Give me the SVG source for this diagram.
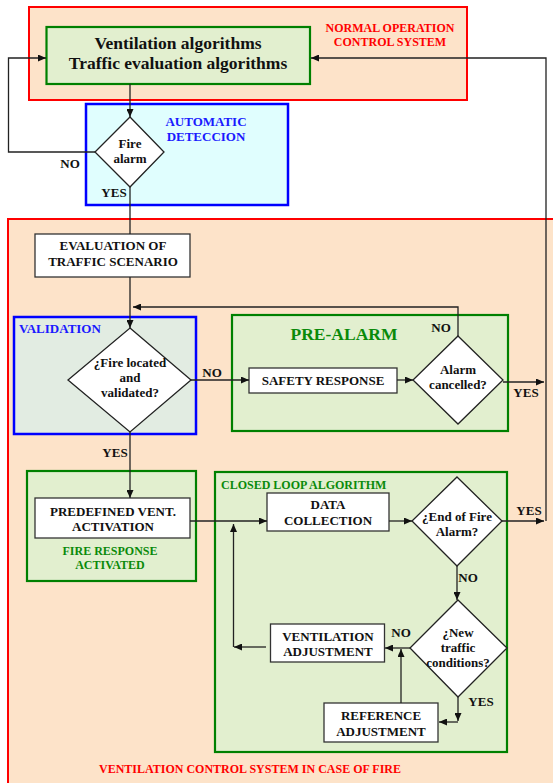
<svg xmlns="http://www.w3.org/2000/svg" width="553" height="783" viewBox="0 0 553 783">
<style>
.t{font-family:"Liberation Serif","Times New Roman",serif;font-weight:bold;text-anchor:middle;fill:#111}
.s13{font-size:13px}
.s12{font-size:12px}
.big{font-size:17.5px}
.red{fill:#ff0000}
.blue{fill:#1a1aff}
.green{fill:#0a8a0a}
.start{text-anchor:start}
.box{fill:#fff;stroke:#333;stroke-width:1.3}
.dia{fill:#fff;stroke:#222;stroke-width:1.3}
.ln{fill:none;stroke:#222;stroke-width:1.3}
.peach{fill:#fde3c9;stroke:#ff0000;stroke-width:2}
.gpanel{fill:#e2efcf;stroke:#008000;stroke-width:2.2}
</style>
<defs>
<marker id="ah" markerUnits="userSpaceOnUse" markerWidth="8" markerHeight="7" refX="8" refY="3.5" orient="auto">
<path d="M0,0 L8,3.5 L0,7 z" fill="#111"/>
</marker>
</defs>
<rect width="553" height="783" fill="#fff"/>

<g id="normal-operation">
<rect class="peach" x="29" y="7" width="438" height="93"/>
<text class="t s12 red" x="390" y="32">NORMAL OPERATION</text>
<text class="t s12 red" x="390" y="46">CONTROL SYSTEM</text>
</g>
<g id="algorithms">
<rect class="gpanel" x="46.5" y="27" width="263.5" height="57"/>
<text class="t big" x="178" y="49">Ventilation algorithms</text>
<text class="t big" x="178" y="69">Traffic evaluation algorithms</text>
</g>
<g id="automatic-detection">
<rect x="86" y="104" width="202" height="101" fill="#e0fefe" stroke="#0000ff" stroke-width="2.5"/>
<text class="t s13 blue" x="206" y="126">AUTOMATIC</text>
<text class="t s13 blue" x="206" y="141">DETECCION</text>
</g>
<g id="fire-alarm">
<polygon class="dia" points="130,117 164,152 130,187 95,152"/>
<text class="t s13" x="130" y="148">Fire</text>
<text class="t s13" x="130" y="163">alarm</text>
</g>

<g id="fire-system">
<rect class="peach" x="8" y="219" width="560" height="580"/>
<text class="t s12 red" x="250" y="773">VENTILATION CONTROL SYSTEM IN CASE OF FIRE</text>
</g>
<g id="evaluation">
<rect class="box" x="35" y="234" width="155" height="43"/>
<text class="t s13" x="113" y="250">EVALUATION OF</text>
<text class="t s13" x="113" y="266">TRAFFIC SCENARIO</text>
</g>
<g id="validation">
<rect x="14" y="317" width="182" height="117" fill="#e2ece2" stroke="#0000ff" stroke-width="2.5"/>
<text class="t s13 blue start" x="19" y="333">VALIDATION</text>
</g>
<g id="fire-located">
<polygon class="dia" points="130,328 191,380 130,432 68,380"/>
<text class="t s13" x="130" y="367">¿Fire located</text>
<text class="t s13" x="130" y="382">and</text>
<text class="t s13" x="130" y="397">validated?</text>
</g>
<g id="pre-alarm">
<rect class="gpanel" x="232" y="315" width="276" height="116"/>
<text class="t big green" x="344" y="340">PRE-ALARM</text>
</g>
<g id="safety-response">
<rect class="box" x="249" y="368" width="148" height="25"/>
<text class="t s13" x="323" y="385">SAFETY RESPONSE</text>
</g>
<g id="alarm-cancelled">
<polygon class="dia" points="458,336 503,380 458,424 413,380"/>
<text class="t s13" x="458" y="374">Alarm</text>
<text class="t s13" x="458" y="389">cancelled?</text>
</g>
<g id="fire-response">
<rect class="gpanel" x="27" y="471" width="169" height="110"/>
<text class="t s12 green" x="110" y="555">FIRE RESPONSE</text>
<text class="t s12 green" x="110" y="569">ACTIVATED</text>
</g>
<g id="predefined">
<rect class="box" x="35" y="498" width="155" height="40"/>
<text class="t s13" x="113" y="516">PREDEFINED VENT.</text>
<text class="t s13" x="113" y="531">ACTIVATION</text>
</g>
<g id="closed-loop">
<rect class="gpanel" x="215" y="472" width="292" height="280"/>
<text class="t s12 green start" x="221" y="489">CLOSED LOOP ALGORITHM</text>
</g>
<g id="data-collection">
<rect class="box" x="267" y="493" width="122" height="38"/>
<text class="t s13" x="328" y="509">DATA</text>
<text class="t s13" x="328" y="525">COLLECTION</text>
</g>
<g id="end-of-fire">
<polygon class="dia" points="457,477 502,521 457,566 412,521"/>
<text class="t s13" x="457" y="521">¿End of Fire</text>
<text class="t s13" x="457" y="536">Alarm?</text>
</g>
<g id="new-traffic">
<polygon class="dia" points="458,600 507,648 458,697 410,648"/>
<text class="t s13" x="458" y="637">¿New</text>
<text class="t s13" x="458" y="652">traffic</text>
<text class="t s13" x="458" y="667">conditions?</text>
</g>
<g id="ventilation-adjustment">
<rect class="box" x="270.5" y="624" width="114" height="38"/>
<text class="t s13" x="328" y="641">VENTILATION</text>
<text class="t s13" x="328" y="656">ADJUSTMENT</text>
</g>
<g id="reference-adjustment">
<rect class="box" x="324" y="703" width="114" height="39"/>
<text class="t s13" x="381" y="720">REFERENCE</text>
<text class="t s13" x="381" y="736">ADJUSTMENT</text>
</g>

<g id="connectors">
<path class="ln" d="M130,84 V117" marker-end="url(#ah)"/>
<path class="ln" d="M95,152 H8.5 V58 H46" marker-end="url(#ah)"/>
<path class="ln" d="M546,521 V58 H311" marker-end="url(#ah)"/>
<path class="ln" d="M130,187 V234"/>
<path class="ln" d="M130,277 V328" marker-end="url(#ah)"/>
<path class="ln" d="M458,336 V307 H133" marker-end="url(#ah)"/>
<path class="ln" d="M191,380 H249" marker-end="url(#ah)"/>
<path class="ln" d="M397,380 H413" marker-end="url(#ah)"/>
<path class="ln" d="M503,382 H544" marker-end="url(#ah)"/>
<path class="ln" d="M130,432 V498" marker-end="url(#ah)"/>
<path class="ln" d="M190,521 H267" marker-end="url(#ah)"/>
<path class="ln" d="M389,521 H412" marker-end="url(#ah)"/>
<path class="ln" d="M502,521 H544" marker-end="url(#ah)"/>
<path class="ln" d="M457,566 V600" marker-end="url(#ah)"/>
<path class="ln" d="M410,648 H385" marker-end="url(#ah)"/>
<path class="ln" d="M266,647 H234" marker-end="url(#ah)"/>
<path class="ln" d="M233.5,647 V524" marker-end="url(#ah)"/>
<path class="ln" d="M458,697 V721" marker-end="url(#ah)"/>
<path class="ln" d="M458,722 H439" marker-end="url(#ah)"/>
<path class="ln" d="M401,703 V649" marker-end="url(#ah)"/>
<text class="t s13" x="70" y="168">NO</text>
<text class="t s13" x="114" y="197">YES</text>
<text class="t s13" x="212" y="377">NO</text>
<text class="t s13" x="441" y="332">NO</text>
<text class="t s13" x="526" y="397">YES</text>
<text class="t s13" x="115" y="457">YES</text>
<text class="t s13" x="529" y="515">YES</text>
<text class="t s13" x="468" y="582">NO</text>
<text class="t s13" x="401" y="637">NO</text>
<text class="t s13" x="481" y="706">YES</text>
</g>
</svg>
